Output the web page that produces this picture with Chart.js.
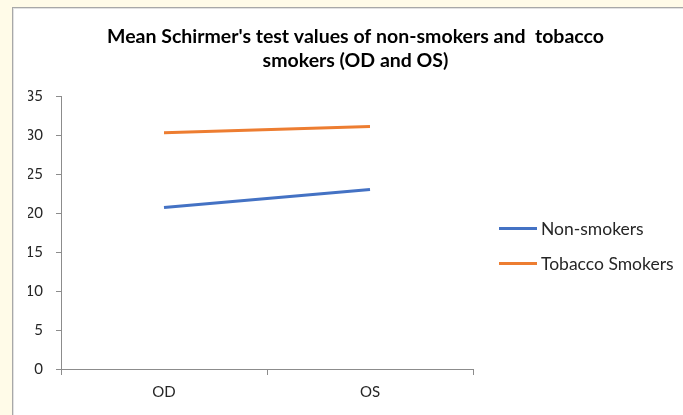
<!DOCTYPE html>
<html lang="en">
<head>
    <meta charset="UTF-8">
    <title>Schirmer's test values</title>
    <style>
        html, body {
            margin: 0;
            padding: 0;
            width: 683px;
            height: 415px;
            overflow: hidden;
            background: #fffbe8;
        }
        #chart-box {
            position: absolute;
            left: 12px;
            top: 7px;
            width: 670px;
            height: 407px;
            background: #fff;
            border-left: 1px solid #a8a8a8;
            border-top: 1px solid #a8a8a8;
            box-shadow: inset 1px 1px 0 #e2e2e2;
        }
        #legend {
            position: absolute;
            left: 486px;
            top: 203px;
            font-family: Lato, "Open Sans", sans-serif;
            font-size: 17.5px;
            color: #262626;
        }
        .legend-row {
            height: 35px;
            display: flex;
            align-items: center;
            white-space: nowrap;
        }
        .legend-line {
            width: 38px;
            height: 3px;
            margin-right: 4px;
        }
    </style>
</head>
<body>
    <div id="chart-box">
        <canvas id="chart"></canvas>
        <div id="legend"></div>
    </div>
    <script src="https://cdn.jsdelivr.net/npm/chart.js"></script>
    <script>
        // Data
        const eyes = ['OD', 'OS'];
        const nonSmokers = [20.7, 23.0];
        const tobaccoSmokers = [30.3, 31.1];
        const yTicks = [0, 5, 10, 15, 20, 25, 30, 35];

        const axisGrey = '#8c8c8c';
        const fontFamily = 'Lato, "Open Sans", sans-serif';

        // legend built as html next to the plot
        const htmlLegend = {
            id: 'htmlLegend',
            afterUpdate(chart) {
                const box = document.getElementById('legend');
                box.innerHTML = '';
                chart.options.plugins.legend.labels.generateLabels(chart).forEach(item => {
                    const row = document.createElement('div');
                    row.className = 'legend-row';
                    const line = document.createElement('span');
                    line.className = 'legend-line';
                    line.style.background = item.strokeStyle;
                    const text = document.createElement('span');
                    text.textContent = item.text;
                    row.appendChild(line);
                    row.appendChild(text);
                    box.appendChild(row);
                });
            }
        };

        const ctx = document.getElementById('chart').getContext('2d');
        const myChart = new Chart(ctx, {
            type: 'line',
            data: {
                labels: eyes,
                datasets: [{
                    label: 'Non-smokers',
                    data: nonSmokers,
                    borderColor: '#4472c4',
                    backgroundColor: '#4472c4',
                    borderWidth: 3,
                    pointRadius: 0
                }, {
                    label: 'Tobacco Smokers',
                    data: tobaccoSmokers,
                    borderColor: '#ed7d31',
                    backgroundColor: '#ed7d31',
                    borderWidth: 3,
                    pointRadius: 0
                }]
            },
            plugins: [htmlLegend],
            options: {
                responsive: true,
                maintainAspectRatio: false,
                animation: false,
                layout: {
                    padding: { left: 15, right: 0, top: 0, bottom: 0 }
                },
                plugins: {
                    title: {
                        display: true,
                        text: ["Mean Schirmer's test values of non-smokers and  tobacco", 'smokers (OD and OS)'],
                        color: '#000',
                        font: { family: fontFamily, size: 19.5, weight: 'bold', lineHeight: 24 / 19.5 },
                        padding: { top: 17, bottom: 23 }
                    },
                    legend: { display: false },
                    tooltip: { enabled: false }
                },
                scales: {
                    x: {
                        offset: true,
                        grid: {
                            offset: true,
                            drawOnChartArea: false,
                            drawTicks: true,
                            tickLength: 6,
                            color: axisGrey
                        },
                        border: { color: axisGrey },
                        ticks: {
                            color: '#262626',
                            font: { family: fontFamily, size: 15 },
                            padding: 8
                        },
                        afterFit: (scale) => { scale.height = 46; }
                    },
                    y: {
                        min: 0,
                        max: 35,
                        afterBuildTicks: (scale) => {
                            scale.ticks = yTicks.map(v => ({ value: v }));
                        },
                        grid: {
                            drawOnChartArea: false,
                            drawTicks: true,
                            tickLength: 5,
                            color: axisGrey
                        },
                        border: { color: axisGrey },
                        ticks: {
                            color: '#262626',
                            font: { family: fontFamily, size: 15 },
                            padding: 13
                        },
                        afterFit: (scale) => { scale.width = 33; }
                    },
                    // empty strip on the right that holds the legend
                    gap: {
                        type: 'linear',
                        position: 'right',
                        grid: { display: false },
                        border: { display: false },
                        ticks: { display: false },
                        afterFit: (scale) => { scale.width = 210; }
                    }
                }
            }
        });
    </script>
</body>
</html>
